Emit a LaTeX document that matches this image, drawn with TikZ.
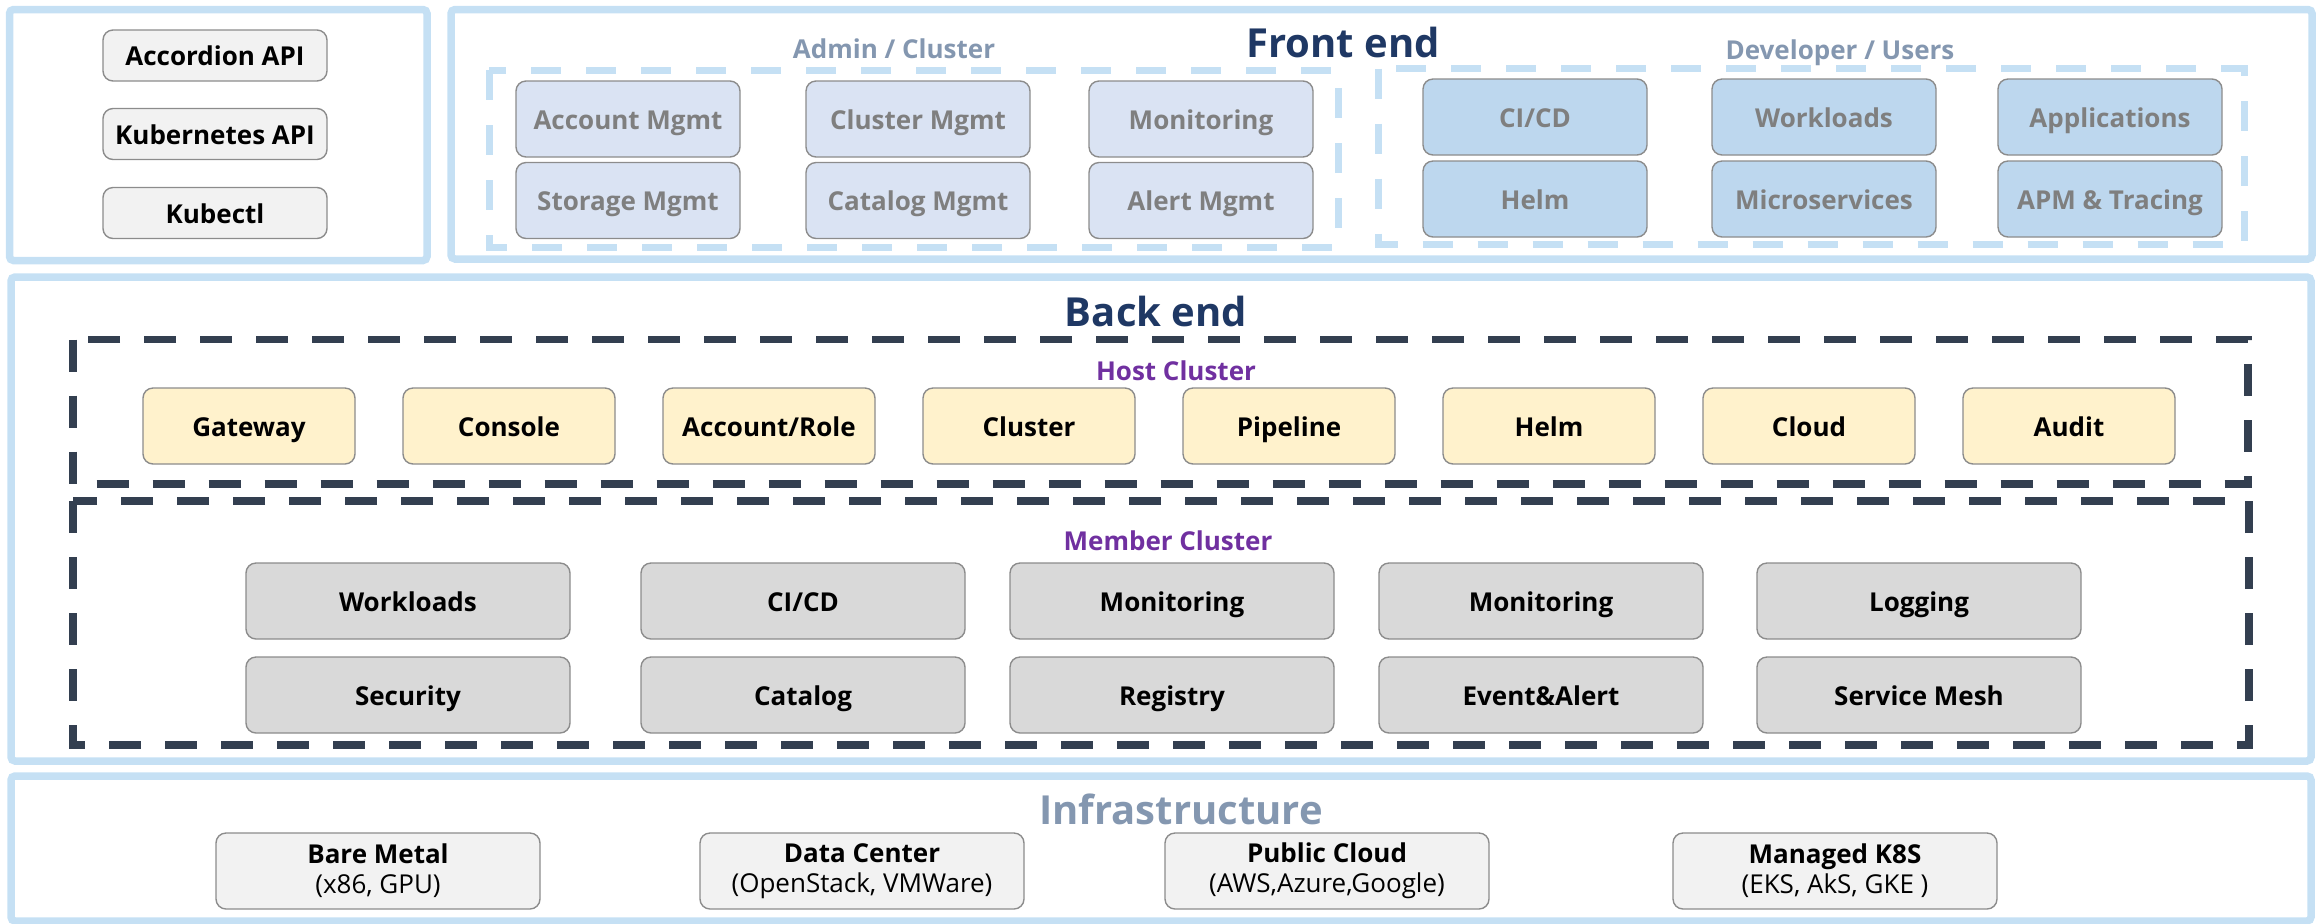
\documentclass[tikz,border=0pt]{standalone}
\usepackage{fontspec}
\setmainfont{Open Sans}

\definecolor{panelblue}{HTML}{C5E0F4}
\definecolor{framedark}{HTML}{333F50}
\definecolor{titlenavy}{HTML}{1F3864}
\definecolor{titlegray}{HTML}{8497B0}
\definecolor{clusterpurple}{HTML}{7030A0}
\definecolor{boxedge}{HTML}{8C8C8C}
\definecolor{textgray}{HTML}{7F7F7F}
\definecolor{adminfill}{HTML}{DAE3F3}
\definecolor{devfill}{HTML}{BDD7EE}
\definecolor{hostfill}{HTML}{FFF2CC}
\definecolor{memberfill}{HTML}{D9D9D9}
\definecolor{plainfill}{HTML}{F2F2F2}

\tikzset{
  panel/.style={draw=panelblue, line width=3.75pt, rounded corners=2pt},
  blueframe/.style={draw=panelblue, line width=3.5pt, dash pattern=on 15pt off 12.5pt},
  darkframe/.style={draw=framedark, line width=3.75pt, dash pattern=on 16pt off 12pt},
  title/.style={font=\fontsize{20}{24}\selectfont\bfseries, text depth=0pt, inner sep=0pt},
  grouplabel/.style={font=\fontsize{13}{15}\selectfont\bfseries, text height=9.3pt, text depth=0pt, inner sep=0pt},
  box/.style={draw=boxedge, line width=0.7pt, rounded corners=5pt, inner sep=0pt,
    font=\fontsize{13}{15}\selectfont\bfseries, text height=10pt, text depth=0pt},
  apibox/.style={box, fill=plainfill, minimum width=112pt, minimum height=25.5pt},
  adminbox/.style={box, fill=adminfill, text=textgray, minimum width=112pt, minimum height=38pt},
  devbox/.style={box, fill=devfill, text=textgray, minimum width=112pt, minimum height=38pt},
  hostbox/.style={box, fill=hostfill, minimum width=106pt, minimum height=38pt},
  memberbox/.style={box, fill=memberfill, minimum width=162pt, minimum height=38pt},
  infrabox/.style={draw=boxedge, line width=0.7pt, rounded corners=5pt, inner sep=0pt,
    fill=plainfill, minimum width=162pt, minimum height=38pt, align=center,
    font=\fontsize{13}{15}\selectfont},
}

\begin{document}
\begin{tikzpicture}[x=0.5pt, y=-0.5pt]
\useasboundingbox (0,0) rectangle (2323,923);

% outer panels
\draw[panel] (9.5,9.5) rectangle (427,260.5);
\draw[panel] (451,9.5) rectangle (2312,259);
\draw[panel] (11,277) rectangle (2311,761);
\draw[panel] (11,776) rectangle (2311,921);

% APIs
\node[apibox] (accapi) at (215,55.5) {Accordion API};
\node[apibox] (kubeapi) at (215,134) {Kubernetes API};
\node[apibox] (kubectl) at (215,213) {Kubectl};

% front end
\node[title, text=titlenavy] (front) at (1343,42) {Front end};
\draw[blueframe] (489,70) rectangle (1338,247);
\draw[blueframe] (1378,68.5) rectangle (2244,244);
\node[grouplabel, text=titlegray] (admin) at (894,49) {Admin / Cluster};
\node[grouplabel, text=titlegray] (dev) at (1840,50) {Developer / Users};

\node[adminbox] (accmgmt) at (628,119) {Account Mgmt};
\node[adminbox] (clumgmt) at (918,119) {Cluster Mgmt};
\node[adminbox] (admmon) at (1201,119) {Monitoring};
\node[adminbox] (stomgmt) at (628,200.5) {Storage Mgmt};
\node[adminbox] (catmgmt) at (918,200.5) {Catalog Mgmt};
\node[adminbox] (alertmgmt) at (1201,200.5) {Alert Mgmt};

\node[devbox] (devcicd) at (1535,117) {CI/CD};
\node[devbox] (devwork) at (1824,117) {Workloads};
\node[devbox] (devapps) at (2110,117) {Applications};
\node[devbox] (devhelm) at (1535,199) {Helm};
\node[devbox] (devmicro) at (1824,199) {Microservices};
\node[devbox] (devapm) at (2110,199) {APM \& Tracing};

% back end
\node[title, text=titlenavy] (back) at (1156,311) {Back end};
\draw[darkframe] (73,339.5) rectangle (2248,484);
\node[grouplabel, text=clusterpurple] (host) at (1176,371) {Host Cluster};
\foreach \lbl [count=\k from 0] in {Gateway, Console, {Account/Role}, Cluster, Pipeline, Helm, Cloud, Audit}
  \node[hostbox] (host\k) at (249+260*\k,426) {\lbl};

\draw[darkframe] (73,501) rectangle (2249,745);
\node[grouplabel, text=clusterpurple] (member) at (1168,541) {Member Cluster};
\node[memberbox] (work) at (408,601) {Workloads};
\node[memberbox] (cicd) at (803,601) {CI/CD};
\node[memberbox] (mon1) at (1172,601) {Monitoring};
\node[memberbox] (mon2) at (1541,601) {Monitoring};
\node[memberbox] (logging) at (1919,601) {Logging};
\node[memberbox] (security) at (408,695) {Security};
\node[memberbox] (catalog) at (803,695) {Catalog};
\node[memberbox] (registry) at (1172,695) {Registry};
\node[memberbox] (event) at (1541,695) {Event\&Alert};
\node[memberbox] (mesh) at (1919,695) {Service Mesh};

% infrastructure
\node[title, text=titlegray] (infra) at (1181,809) {Infrastructure};
\node[infrabox] (bare) at (378,871) {\textbf{Bare Metal}\\(x86, GPU)};
\node[infrabox] (dc) at (862,871) {\textbf{Data Center}\\(OpenStack, VMWare)};
\node[infrabox] (public) at (1327,871) {\textbf{Public Cloud}\\(AWS,Azure,Google)};
\node[infrabox] (managed) at (1835,871) {\textbf{Managed K8S}\\(EKS, AkS, GKE )};
\end{tikzpicture}
\end{document}
